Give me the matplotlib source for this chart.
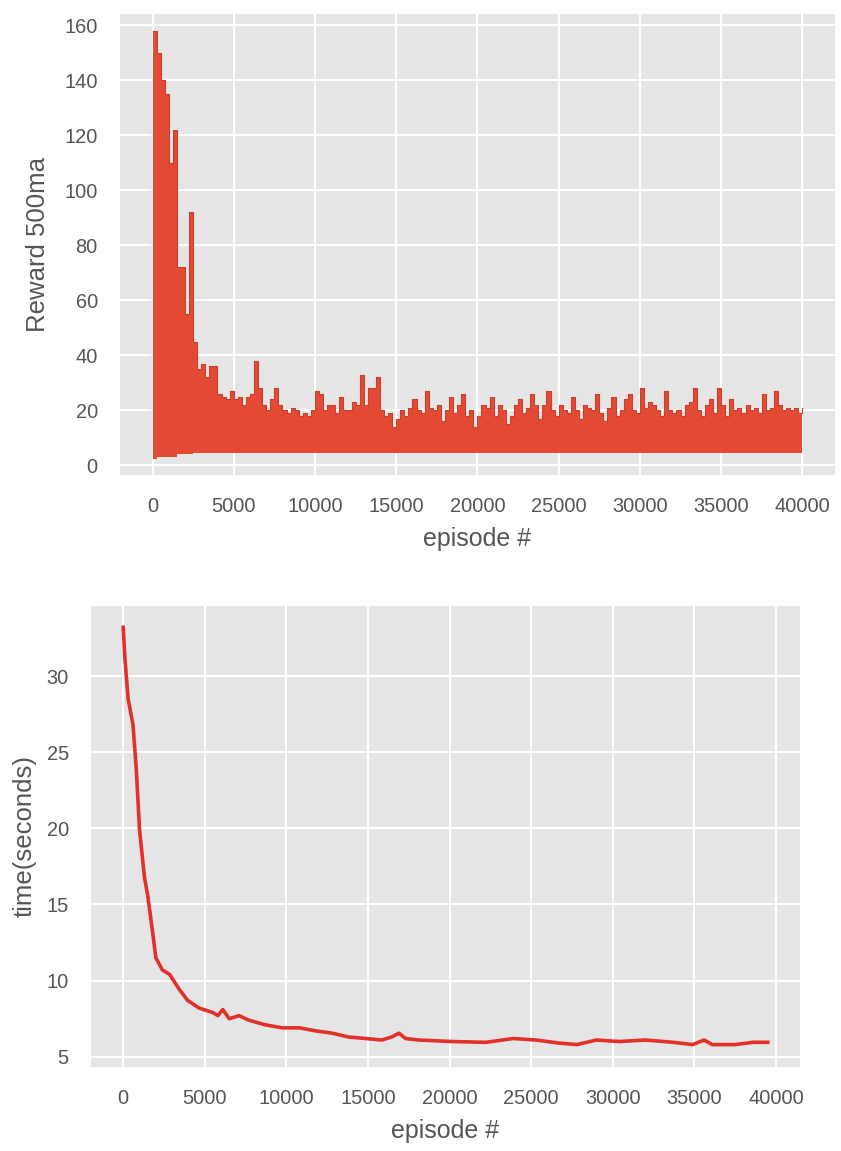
import numpy as np
import matplotlib.pyplot as plt

# ---- top panel: 500-episode moving-average reward (upper envelope every 250 episodes)
reward_step = 250
reward_top = [
    158, 150, 140, 135, 110, 122, 72, 72, 55, 92,
    45, 35, 37, 32, 36, 36, 26, 25, 24, 27,
    24, 25, 22, 25, 26, 38, 28, 22, 20, 24,
    28, 22, 20, 19, 21, 20, 18, 19, 18, 20,
    27, 26, 20, 22, 22, 19, 25, 20, 20, 23,
    22, 33, 22, 28, 28, 32, 20, 18, 19, 14,
    17, 20, 18, 21, 24, 20, 19, 27, 21, 20,
    22, 16, 20, 25, 19, 22, 26, 18, 20, 14,
    18, 22, 21, 25, 18, 22, 20, 15, 18, 22,
    24, 19, 21, 26, 22, 17, 22, 27, 20, 18,
    22, 20, 19, 25, 20, 17, 22, 21, 20, 26,
    19, 16, 21, 25, 18, 20, 24, 26, 20, 19,
    28, 21, 23, 22, 20, 18, 27, 20, 19, 20,
    18, 22, 23, 28, 20, 18, 22, 24, 19, 28,
    22, 18, 24, 20, 21, 19, 22, 20, 21, 19,
    26, 20, 21, 27, 22, 20, 21, 20, 21, 19,
    21,
]
# lower edge of the oscillation band
floor_start = [0, 250, 1500, 2500]
floor_value = [2.5, 3.0, 4.0, 4.5]

# ---- bottom panel: time per episode
time_episode = [
    0, 100, 300, 600, 800, 1000, 1300, 1500, 1800, 2000,
    2400, 2850, 3450, 3950, 4650, 5500, 5800, 6100, 6500, 7100,
    7700, 8700, 9750, 10800, 11800, 12800, 13800, 14850, 15850, 16450,
    16900, 17300, 18100, 20200, 22250, 23900, 25300, 26700, 27800, 29000,
    30400, 32000, 33700, 34900, 35600, 36100, 37500, 38600, 39500,
]
time_seconds = [
    33.2, 31.2, 28.5, 26.8, 23.9, 19.9, 16.8, 15.6, 13.2, 11.5,
    10.7, 10.4, 9.4, 8.7, 8.2, 7.9, 7.7, 8.1, 7.5, 7.7,
    7.4, 7.1, 6.9, 6.9, 6.7, 6.55, 6.3, 6.2, 6.1, 6.3,
    6.55, 6.2, 6.1, 6.0, 5.95, 6.2, 6.1, 5.9, 5.8, 6.1,
    6.0, 6.1, 5.95, 5.8, 6.1, 5.8, 5.8, 5.95, 5.95,
]

plt.style.use('ggplot')
plt.rcParams['font.family'] = ['Liberation Sans', 'DejaVu Sans']
plt.rcParams['font.size'] = 14.4

red = '#E24A33'
fig = plt.figure(figsize=(8.41, 11.51), dpi=100)

# --- top chart
ax1 = fig.add_axes([0.1427, 0.5873, 0.850, 0.4005])
rx = np.arange(len(reward_top)) * reward_step
ry = np.array(reward_top, dtype=float)
idx = np.searchsorted(floor_start, rx, side='right') - 1
rlow = np.array(floor_value)[idx]
ax1.fill_between(rx, rlow, ry, step='post', color=red, lw=0)
ax1.step(rx, ry, where='post', color='#C8402E', lw=0.8)
ax1.set_xlim(-2000, 42000)
ax1.set_ylim(-3.5, 164)
ax1.set_yticks(range(0, 161, 20))
ax1.set_xticks(range(0, 40001, 5000))
ax1.set_ylabel('Reward 500ma', labelpad=10)
ax1.set_xlabel('episode #', labelpad=8)

# --- bottom chart
ax2 = fig.add_axes([0.1082, 0.0730, 0.843, 0.4005])
ax2.plot(time_episode, time_seconds, color='#E2302A', lw=2.6)
ax2.set_xlim(-1975, 41475)
ax2.set_ylim(4.33, 34.6)
ax2.set_yticks(range(5, 31, 5))
ax2.set_xticks(range(0, 40001, 5000))
ax2.set_ylabel('time(seconds)', labelpad=7)
ax2.set_xlabel('episode #', labelpad=8)

for ax in (ax1, ax2):
    ax.set_facecolor('#E5E5E5')
    ax.grid(True, color='white', lw=1.5)
    ax.tick_params(length=0, pad=16, labelcolor='#555555', labelsize=14.4)
    ax.xaxis.label.set_color('#555555')
    ax.yaxis.label.set_color('#555555')
    ax.xaxis.label.set_size(18)
    ax.yaxis.label.set_size(18.5)
    for s in ax.spines.values():
        s.set_visible(False)

fig.savefig('out.png', dpi=100)
